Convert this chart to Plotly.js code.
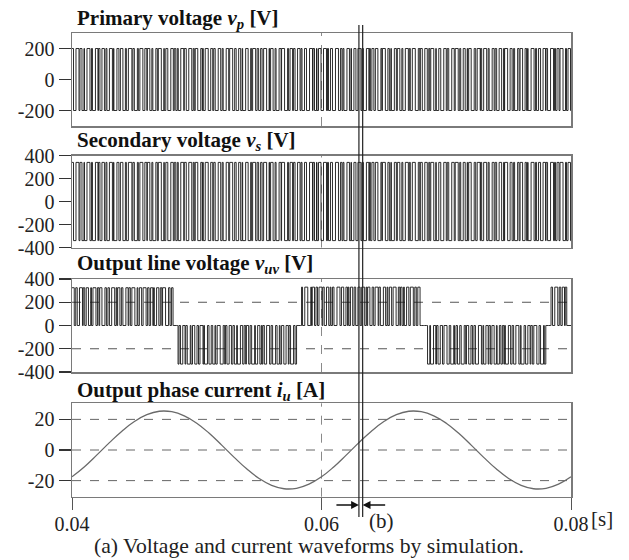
<!DOCTYPE html>
<html><head><meta charset="utf-8">
<script src="https://cdn.plot.ly/plotly-3.0.1.min.js"></script>
<style>html,body{margin:0;padding:0;background:#fff}#chart{width:629px;height:560px}</style>
</head><body><div id="chart"></div>
<script>
// ---------------- DATA ----------------
const T0 = 0.04, T1 = 0.08;
const xTickVals = [0.04, 0.06, 0.08];
const xTickText = ['0.04', '0.06', '0.08'];

// Transformer voltage switching pattern: alternating +/- run lengths (unit = 40 µs)
const RUN_UNIT = 0.00004;
const transformerRuns = [
  "35624415632651345325", "62164355247236236441", "54263265134652332561",
  "45632256311465423653", "26526435431655226334", "33651254264166235235",
  "52254661341355622446", "64322653154462365123", "43562165331642542562",
  "24663145532264154652", "36526325441256336124", "63264235541165432632",
  "55321663244551366223", "42652356311463255246"
];
const primaryAmp = 200;
const secondaryAmp = 340;

// Output line voltage: alternating pulse / zero run lengths (unit = 60 µs)
const LINE_UNIT = 0.00006;
const lineRuns = [
  "32234122331242213422", "23421132243122431232", "42223113322144223311",
  "22331241233224114232", "31244212332231432213", "22413321123422423123",
  "33124222312344113222", "41233212244233211232", "23324211332241243212",
  "32432122133242223411", "22314312332432412232", "42133222442133122331",
  "32221143223421423312", "24324123123342223123"
];
const lineSegStart = [0.0400, 0.0485, 0.0584, 0.0684, 0.0784];
const lineSegEnd   = [0.0481, 0.0580, 0.0680, 0.0780, 0.0800];
const lineSegSign  = [1, -1, 1, -1, 1];
const lineSegAmp   = [325, 332, 330, 332, 330];

// Output phase current, sampled every 1 ms from 0.04 s
const CURRENT_STEP = 0.001;
const currentVals = [
  -17.5, -10.9, -3.2, 4.8, 12.3, 18.6, 23.1, 25.3, 25.0, 22.3,
   17.5,  10.9,  3.2, -4.8, -12.3, -18.6, -23.1, -25.3, -25.0, -22.3,
  -17.5, -10.9, -3.2, 4.8, 12.3, 18.6, 23.1, 25.3, 25.0, 22.3,
   17.5,  10.9,  3.2, -4.8, -12.3, -18.6, -23.1, -25.3, -25.0, -22.3,
  -17.5
];

const markerTimes = [0.0630, 0.0633];
const dashedTime = 0.06;

const panelTitles = [
  '<b>Primary voltage <i>v<sub>p</sub></i> [V]</b>',
  '<b>Secondary voltage <i>v<sub>s</sub></i> [V]</b>',
  '<b>Output line voltage <i>v<sub>uv</sub></i> [V]</b>',
  '<b>Output phase current <i>i<sub>u</sub></i> [A]</b>'
];
const yTicks = [
  {vals: [-200, 0, 200], text: ['-200', '0', '200']},
  {vals: [-400, -200, 0, 200, 400], text: ['-400', '-200', '0', '200', '400']},
  {vals: [-400, -200, 0, 200, 400], text: ['-400', '-200', '0', '200', '400']},
  {vals: [-20, 0, 20], text: ['-20', '0', '20']}
];
const yRanges = [[-300, 300], [-400, 400], [-400, 400], [-30.5, 30.5]];
const gridLines3 = [-200, 200];
const gridLines4 = [-20, 0, 20];
const captionText = '(a) Voltage and current waveforms by simulation.';

// ---------------- BUILD ----------------
function buildSquare(amp) {
  const xs = [], ys = [];
  let t = T0, i = 0;
  for (const ch of transformerRuns.join('')) {
    if (t >= T1) break;
    xs.push(t); ys.push(i % 2 === 0 ? amp : -amp);
    t += (+ch) * RUN_UNIT; i++;
  }
  xs.push(T1); ys.push(ys[ys.length - 1]);
  return {xs, ys};
}
function segLevel(t) {
  for (let k = 0; k < lineSegStart.length; k++) {
    if (t >= lineSegStart[k] && t < lineSegEnd[k]) return lineSegSign[k] * lineSegAmp[k];
  }
  return 0;
}
function buildLine() {
  const xs = [], ys = [];
  const bounds = lineSegStart.concat(lineSegEnd).sort((a, b) => a - b);
  let t = T0, i = 0;
  for (const ch of lineRuns.join('')) {
    if (t >= T1) break;
    const d = (+ch) * LINE_UNIT;
    const high = i % 2 === 0;
    const cuts = [t].concat(bounds.filter(b => b > t + 1e-9 && b < t + d - 1e-9));
    for (const c of cuts) { xs.push(c); ys.push(high ? segLevel(c + 1e-9) : 0); }
    t += d; i++;
  }
  xs.push(T1); ys.push(ys[ys.length - 1]);
  return {xs, ys};
}

const FONT = 'Liberation Serif, Times New Roman, Times, serif';
const BOX = '#7a7a7a';
const sig = {color: '#151515', width: 0.9, shape: 'hv'};

const p = buildSquare(primaryAmp);
const s = buildSquare(secondaryAmp);
const l = buildLine();
const cx = currentVals.map((v, k) => T0 + k * CURRENT_STEP);

const traces = [
  {x: p.xs, y: p.ys, xaxis: 'x', yaxis: 'y', mode: 'lines', line: sig, hoverinfo: 'skip'},
  {x: s.xs, y: s.ys, xaxis: 'x2', yaxis: 'y2', mode: 'lines', line: sig, hoverinfo: 'skip'},
  {x: l.xs, y: l.ys, xaxis: 'x3', yaxis: 'y3', mode: 'lines', line: sig, hoverinfo: 'skip'},
  {x: cx, y: currentVals, xaxis: 'x4', yaxis: 'y4', mode: 'lines',
   line: {color: '#6a6a6a', width: 1.3, shape: 'spline', smoothing: 1.3}, hoverinfo: 'skip'}
];

const H = 560;
const panelPx = [[33, 126], [155.5, 247.5], [279, 372], [403.3, 496.7]];
const dom = panelPx.map(([a, b]) => [1 - b / H, 1 - a / H]);

function xAx(i, bottom) {
  return {
    domain: [0, 1], anchor: i === 0 ? 'y' : 'y' + (i + 1), range: [T0, T1],
    showline: true, mirror: true, linecolor: BOX, linewidth: 1.5,
    showgrid: false, zeroline: false,
    ticks: bottom ? 'outside' : '', ticklen: 12, tickwidth: 1, tickcolor: '#555',
    showticklabels: !!bottom, tickvals: xTickVals, ticktext: xTickText,
    ticklabelstandoff: -3,
    tickfont: {family: FONT, size: 20, color: '#222'}, fixedrange: true
  };
}
function yAx(i) {
  return {
    domain: dom[i], anchor: i === 0 ? 'x' : 'x' + (i + 1), range: yRanges[i],
    showline: true, mirror: true, linecolor: BOX, linewidth: 1.5,
    showgrid: false, zeroline: false,
    ticks: 'outside', ticklen: 12, tickwidth: 1.2, tickcolor: '#333',
    tickvals: yTicks[i].vals, ticktext: yTicks[i].text,
    tickfont: {family: FONT, size: 20, color: '#222'}, fixedrange: true
  };
}

const shapes = [];
['x', 'x2', 'x3', 'x4'].forEach((xr, i) => {
  const yr = (i === 0 ? 'y' : 'y' + (i + 1)) + ' domain';
  shapes.push({type: 'line', xref: xr, yref: yr, x0: dashedTime, x1: dashedTime, y0: 0, y1: 1,
    line: {color: '#8a8a8a', width: 1, dash: 'dash'}, layer: 'below'});
});
gridLines3.forEach(v => shapes.push({type: 'line', xref: 'x3 domain', yref: 'y3', x0: 0, x1: 1, y0: v, y1: v,
  line: {color: '#555', width: 1, dash: 'dash'}, layer: 'below'}));
gridLines4.forEach(v => shapes.push({type: 'line', xref: 'x4 domain', yref: 'y4', x0: 0, x1: 1, y0: v, y1: v,
  line: {color: '#666', width: 1, dash: 'dash'}, layer: 'below'}));
markerTimes.forEach(t => shapes.push({type: 'line', xref: 'x4', yref: 'paper', x0: t, x1: t,
  y0: 1 - 517 / H, y1: 1 - 25 / H, line: {color: '#222', width: 1.2}}));

const titleY = [19, 141, 263.5, 390.5];
const annotations = panelTitles.map((txt, i) => ({
  text: txt, xref: 'paper', yref: 'paper', x: 3 / 499, y: 1 - titleY[i] / H,
  xanchor: 'left', yanchor: 'middle', showarrow: false,
  font: {family: FONT, size: 21, color: '#111'}
}));
annotations.push({text: '[s]', xref: 'paper', yref: 'paper', x: (589 - 72) / 499, y: 1 - 519 / H,
  xanchor: 'left', yanchor: 'middle', showarrow: false, font: {family: FONT, size: 21, color: '#222'}});
annotations.push({text: '(b)', xref: 'paper', yref: 'paper', x: (381.7 - 72) / 499, y: 1 - 521 / H,
  xanchor: 'center', yanchor: 'middle', showarrow: false, font: {family: FONT, size: 21, color: '#222'}});
annotations.push({text: captionText, xref: 'paper', yref: 'paper', x: (309 - 72) / 499, y: 1 - 546 / H,
  xanchor: 'center', yanchor: 'middle', showarrow: false, font: {family: FONT, size: 21.7, color: '#222'}});
annotations.push({text: '', xref: 'x4', yref: 'paper', x: markerTimes[0], y: 1 - 505 / H,
  ax: -24, ay: 0, showarrow: true, arrowhead: 2, arrowsize: 1.2, arrowwidth: 1.3, arrowcolor: '#111', standoff: 0});
annotations.push({text: '', xref: 'x4', yref: 'paper', x: markerTimes[1], y: 1 - 505 / H,
  ax: 24, ay: 0, showarrow: true, arrowhead: 2, arrowsize: 1.2, arrowwidth: 1.3, arrowcolor: '#111', standoff: 0});

const layout = {
  width: 629, height: 560, margin: {l: 72, r: 58, t: 0, b: 0},
  paper_bgcolor: '#fff', plot_bgcolor: '#fff', showlegend: false,
  font: {family: FONT, size: 20, color: '#222'},
  xaxis: xAx(0, false), xaxis2: xAx(1, false), xaxis3: xAx(2, false), xaxis4: xAx(3, true),
  yaxis: yAx(0), yaxis2: yAx(1), yaxis3: yAx(2), yaxis4: yAx(3),
  shapes: shapes, annotations: annotations
};

Plotly.newPlot('chart', traces, layout, {staticPlot: true, displayModeBar: false});
</script>
</body></html>
